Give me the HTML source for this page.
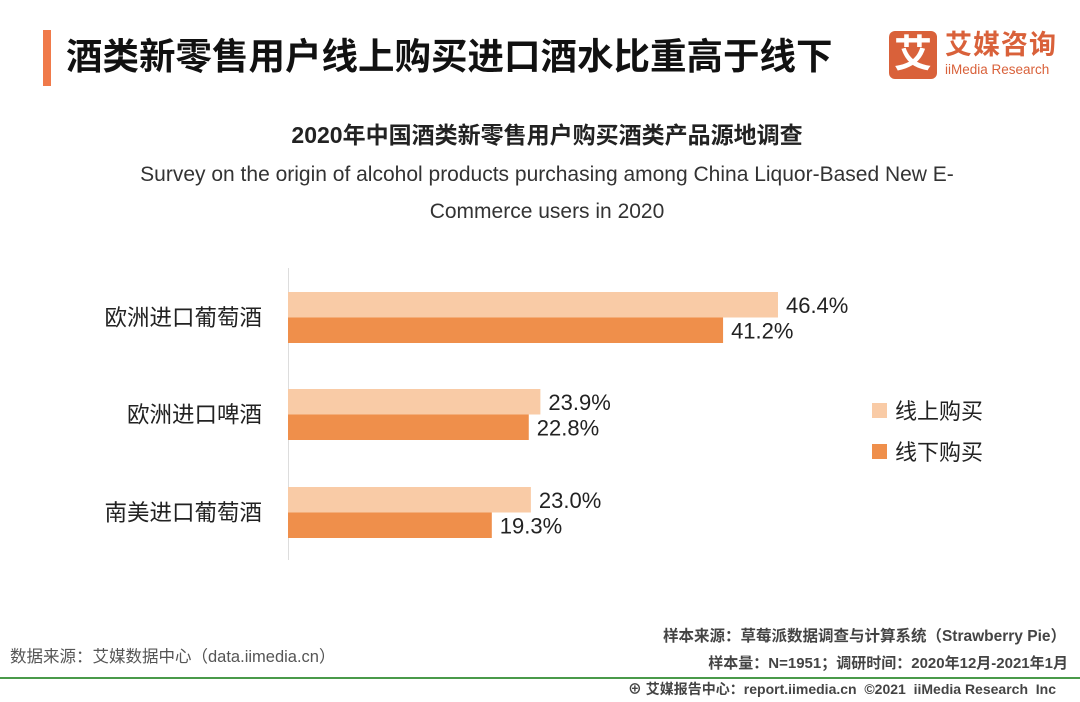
<!DOCTYPE html>
<html><head><meta charset="utf-8"><style>
body{margin:0;width:1080px;height:702px;background:#fff;position:relative;overflow:hidden;font-family:"Liberation Sans","Noto Sans CJK SC",sans-serif;color:#222}
.a{position:absolute;white-space:nowrap;line-height:1}
</style></head><body>
<div class="a" style="left:43px;top:30px;width:8px;height:56px;background:#f07a4a"></div>
<div class="a" style="left:66px;top:39px;font-size:36.5px;font-weight:bold;color:#111">酒类新零售用户线上购买进口酒水比重高于线下</div>
<div class="a" style="left:889px;top:31px;width:48px;height:48px;background:#d9613a;border-radius:6px;color:#fff;font-size:38px;font-weight:bold;text-align:center;line-height:48px">艾</div>
<div class="a" style="left:945px;top:32px;font-size:27px;font-weight:bold;color:#d9613a;letter-spacing:1px">艾媒咨询</div>
<div class="a" style="left:945px;top:63px;font-size:13.5px;color:#d9613a">iiMedia Research</div>
<div class="a" style="left:0;width:1094px;text-align:center;top:124px;font-size:23px;font-weight:bold">2020年中国酒类新零售用户购买酒类产品源地调查</div>
<div class="a" style="left:0;width:1094px;text-align:center;top:156px;font-size:21px;line-height:37px;white-space:normal;color:#333">Survey on the origin of alcohol products purchasing among China Liquor-Based New E-<br>Commerce users in 2020</div>
<svg class="a" style="left:0;top:0" width="1080" height="702">
<line x1="288.5" y1="268" x2="288.5" y2="560" stroke="#ddd"/>
<g id="g"></g>
<rect x="872" y="403" width="15" height="15" fill="#f9cba6"/>
<text x="895" y="419" font-size="22" fill="#222">线上购买</text>
<rect x="872" y="444" width="15" height="15" fill="#ef8f4b"/>
<text x="895" y="460" font-size="22" fill="#222">线下购买</text>
</svg>
<div class="a" style="left:10px;top:649px;font-size:16.5px;color:#555">数据来源：艾媒数据中心（data.iimedia.cn）</div>
<div class="a" style="right:14px;top:629px;font-size:15.5px;color:#444;font-weight:bold">样本来源：草莓派数据调查与计算系统（Strawberry Pie）</div>
<div class="a" style="right:12px;top:656px;font-size:15px;color:#444;font-weight:bold">样本量：N=1951；调研时间：2020年12月-2021年1月</div>
<div class="a" style="left:0;top:677px;width:1080px;height:2px;background:#4a9a4a"></div>
<div class="a" style="right:24px;top:682px;font-size:14px;color:#444;font-weight:bold">⊕ 艾媒报告中心：report.iimedia.cn &nbsp;©2021 &nbsp;iiMedia Research &nbsp;Inc</div>
<script>
const categories=["欧洲进口葡萄酒","欧洲进口啤酒","南美进口葡萄酒"];
const online=[46.4,23.9,23.0];
const offline=[41.2,22.8,19.3];
const x0=288,scale=10.56,groupTop=[292,389,487],bh=25.5;
const g=document.getElementById('g');
const NS="http://www.w3.org/2000/svg";
function xs(v){return v*scale;}
categories.forEach((c,i)=>{
  const y=groupTop[i];
  [[online[i],'#f9cba6',0,'online'],[offline[i],'#ef8f4b',bh,'offline']].forEach(([v,col,dy,nm])=>{
    const r=document.createElementNS(NS,'rect');
    r.setAttribute('x',x0);r.setAttribute('y',y+dy);r.setAttribute('width',xs(v));r.setAttribute('height',bh);r.setAttribute('fill',col);
    
    
    g.appendChild(r);
    const t=document.createElementNS(NS,'text');
    t.setAttribute('x',x0+xs(v)+8);t.setAttribute('y',y+dy+21);t.setAttribute('font-size','22');t.setAttribute('fill','#222');
    t.textContent=v.toFixed(1)+'%';
    
    
    g.appendChild(t);
  });
  const l=document.createElementNS(NS,'text');
  l.setAttribute('x',262);l.setAttribute('y',y+bh+8);l.setAttribute('font-size','22.5');l.setAttribute('text-anchor','end');l.setAttribute('fill','#222');
  l.textContent=c;
  
  
  g.appendChild(l);
});
</script>
</body></html>
